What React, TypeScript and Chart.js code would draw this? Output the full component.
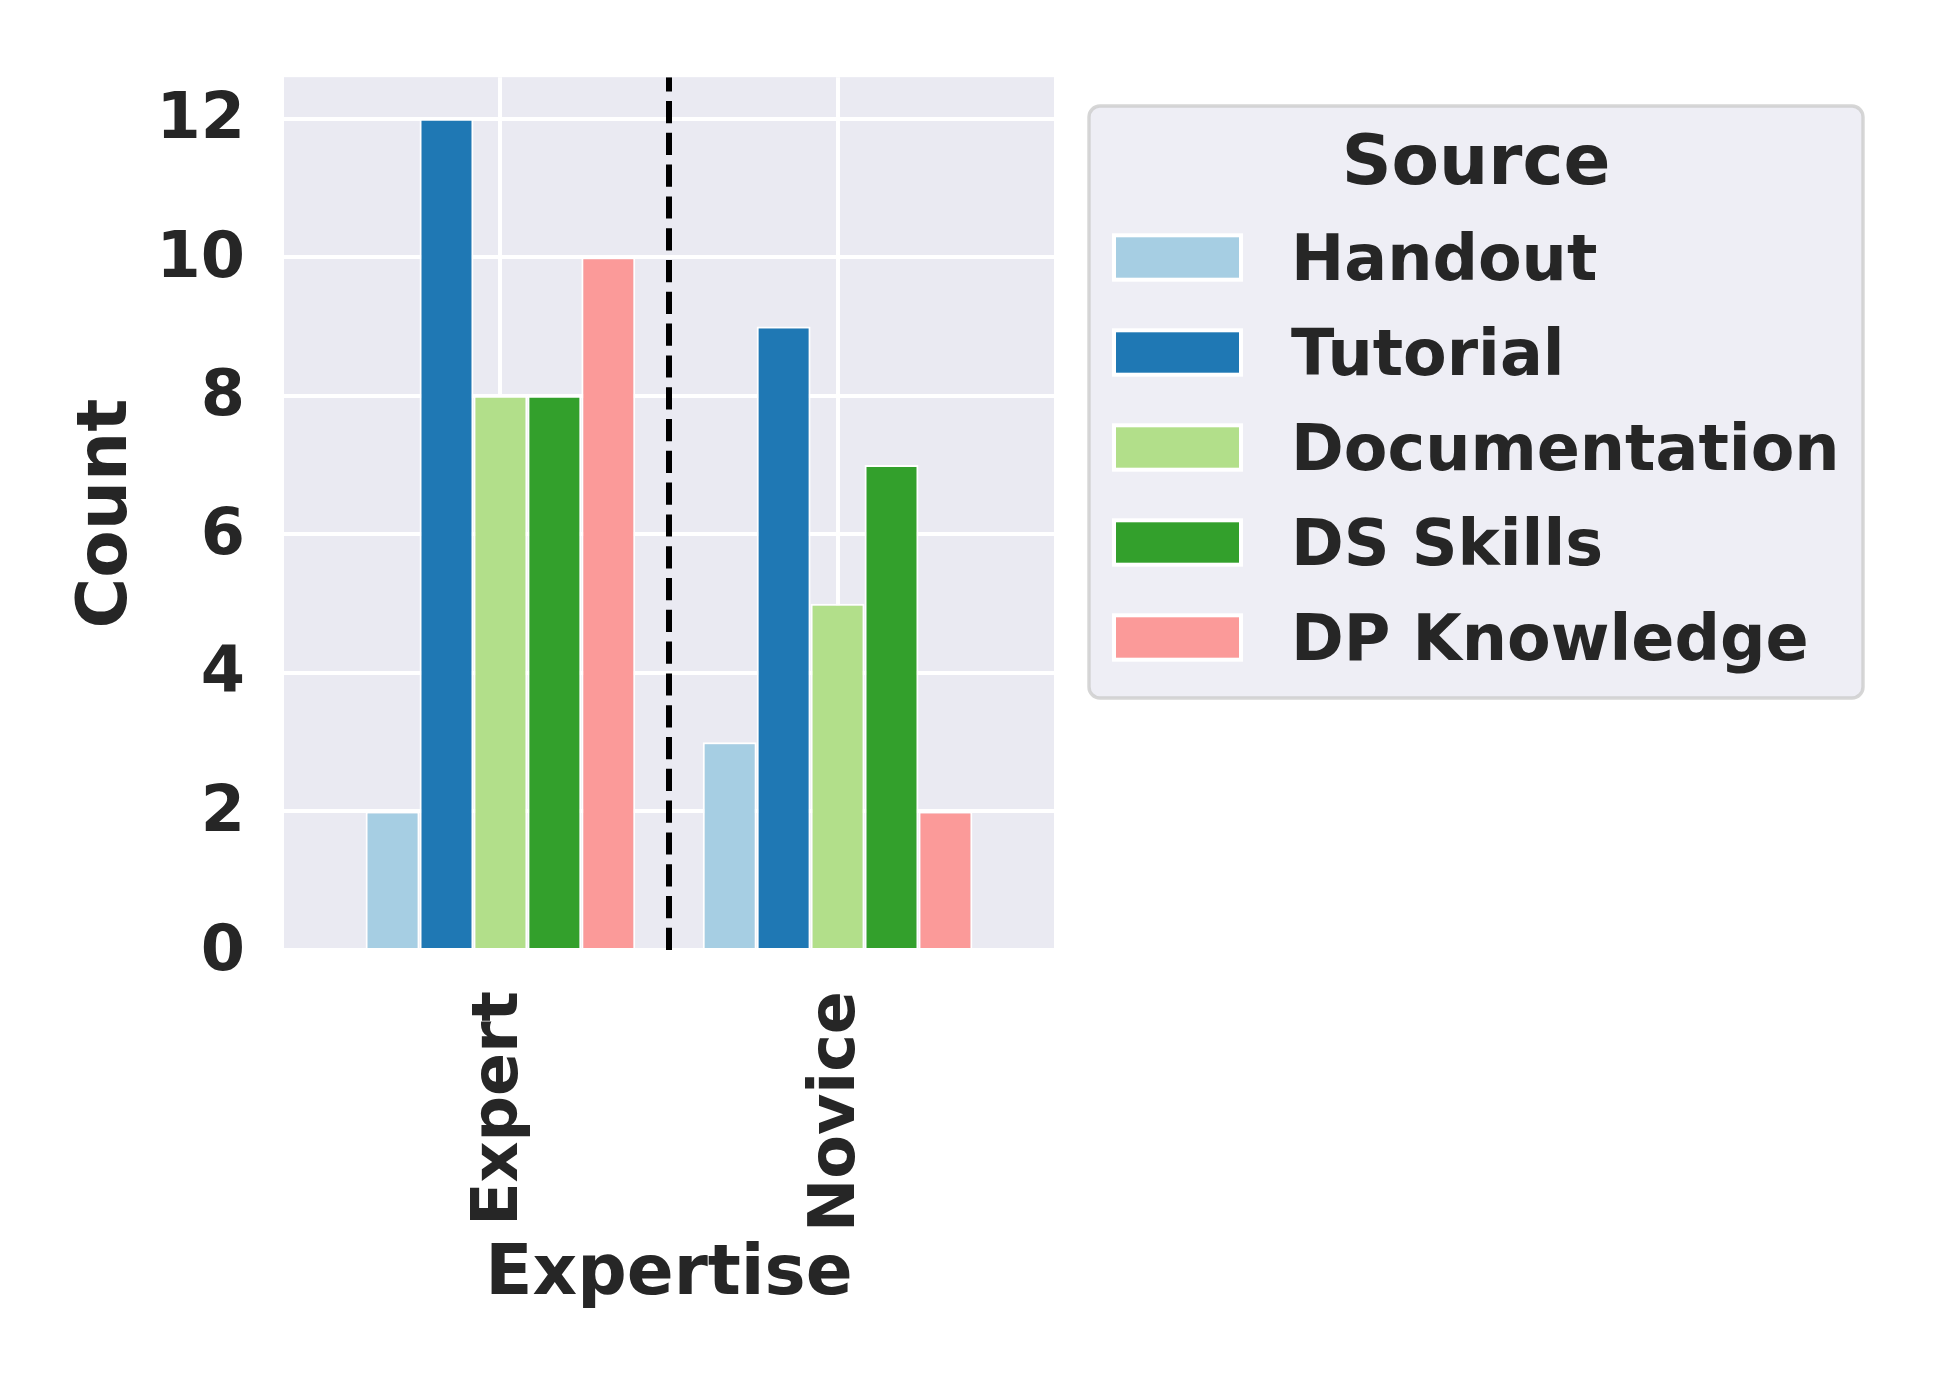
import React, { useEffect, useRef } from 'react';
import { Chart, registerables } from 'chart.js';

Chart.register(...registerables);

const categories = ['Expert', 'Novice'];
const sources = ['Handout', 'Tutorial', 'Documentation', 'DS Skills', 'DP Knowledge'];
const handout = [2, 3];
const tutorial = [12, 9];
const documentation = [8, 5];
const dsSkills = [8, 7];
const dpKnowledge = [10, 2];
const seriesValues = [handout, tutorial, documentation, dsSkills, dpKnowledge];
const palette = ['#a6cee3', '#1f78b4', '#b2df8a', '#33a02c', '#fb9a99'];
const yTickStep = 2;
const yMax = 12.6;
const legendTitle = 'Source';
const xTitle = 'Expertise';
const yTitle = 'Count';

const TEXT = '#262626';
const FONT = "'DejaVu Sans', sans-serif";
const TICK_SIZE = 63.6;
const TITLE_SIZE = 69.2;

const bgPlugin = {
  id: 'bgPlugin',
  beforeDraw(chart: any) {
    const { ctx, chartArea: a } = chart;
    ctx.save();
    ctx.fillStyle = '#ffffff';
    ctx.fillRect(0, 0, chart.width, chart.height);
    ctx.fillStyle = '#eaeaf2';
    ctx.fillRect(a.left, a.top, a.right - a.left, a.bottom - a.top);
    ctx.restore();
  },
};

const dividerPlugin = {
  id: 'dividerPlugin',
  afterDatasetsDraw(chart: any) {
    const { ctx, chartArea: a, scales } = chart;
    const x = scales.x.getPixelForValue(0.5);
    ctx.save();
    ctx.beginPath();
    ctx.rect(a.left, a.top, a.right - a.left, a.bottom - a.top);
    ctx.clip();
    ctx.strokeStyle = '#000000';
    ctx.lineWidth = 6;
    ctx.setLineDash([22.2, 9.6]);
    ctx.beginPath();
    ctx.moveTo(x, a.bottom);
    ctx.lineTo(x, a.top);
    ctx.stroke();
    ctx.restore();
  },
};

const legendPlugin = {
  id: 'legendPlugin',
  afterDraw(chart: any) {
    const { ctx } = chart;
    const ds = chart.data.datasets;
    const bx = 1089, by = 106, bw = 774, bh = 592;
    ctx.save();
    ctx.beginPath();
    (ctx as any).roundRect(bx, by, bw, bh, 11);
    ctx.fillStyle = 'rgba(234,234,242,0.8)';
    ctx.fill();
    ctx.lineWidth = 3.4;
    ctx.strokeStyle = 'rgba(204,204,204,0.8)';
    ctx.stroke();

    ctx.fillStyle = TEXT;
    ctx.font = `bold ${TITLE_SIZE}px ${FONT}`;
    ctx.textAlign = 'center';
    ctx.textBaseline = 'alphabetic';
    ctx.fillText(legendTitle, bx + bw / 2, 184);

    ctx.font = `bold ${TICK_SIZE}px ${FONT}`;
    ctx.textAlign = 'left';
    ds.forEach((d: any, i: number) => {
      const py = 235.3 + i * 95;
      ctx.fillStyle = d.backgroundColor;
      ctx.fillRect(1114, py, 127, 44.4);
      ctx.strokeStyle = '#ffffff';
      ctx.lineWidth = 4;
      ctx.strokeRect(1114, py, 127, 44.4);
      ctx.fillStyle = TEXT;
      ctx.fillText(d.label, 1291, 280 + i * 95);
    });
    ctx.restore();
  },
};

export default function App() {
  const ref = useRef<HTMLCanvasElement | null>(null);

  useEffect(() => {
    if (!ref.current) return;
    Chart.defaults.font.family = FONT;
    const chart = new Chart(ref.current, {
      type: 'bar',
      data: {
        datasets: sources.map((s, k) => ({
          label: s,
          data: categories.map((_, i) => ({ x: i, y: seriesValues[k][i] })),
          backgroundColor: palette[k],
          borderColor: '#ffffff',
          borderWidth: 2,
          categoryPercentage: 0.8,
          barPercentage: 1.0,
        })),
      },
      options: {
        responsive: false,
        animation: false,
        devicePixelRatio: 1,
        layout: { padding: { left: 0, top: 75, right: 883, bottom: 0 } },
        plugins: { legend: { display: false }, tooltip: { enabled: false } },
        scales: {
          x: {
            type: 'linear',
            min: -0.642,
            max: 1.642,
            offset: false,
            grid: { color: '#ffffff', lineWidth: 4, drawTicks: false, offset: false },
            border: { display: false },
            afterBuildTicks: (s: any) => {
              s.ticks = categories.map((_, i) => ({ value: i }));
            },
            afterFit: (s: any) => {
              s.height = 434;
            },
            ticks: {
              callback: (v: any) => categories[v as number] ?? '',
              minRotation: 90,
              maxRotation: 90,
              autoSkip: false,
              padding: 41,
              color: TEXT,
              font: { size: TICK_SIZE, weight: 'bold', family: FONT },
            },
            title: {
              display: true,
              text: xTitle,
              color: TEXT,
              font: { size: TITLE_SIZE, weight: 'bold', family: FONT, lineHeight: 1 },
              padding: { top: 0, bottom: 73 },
            },
          } as any,
          y: {
            type: 'linear',
            min: 0,
            max: yMax,
            grid: { color: '#ffffff', lineWidth: 4, drawTicks: false },
            border: { display: false },
            afterFit: (s: any) => {
              s.width = 284;
            },
            ticks: {
              stepSize: yTickStep,
              includeBounds: false,
              padding: 39,
              labelOffset: 3,
              color: TEXT,
              font: { size: TICK_SIZE, weight: 'bold', family: FONT },
            },
            title: {
              display: true,
              text: yTitle,
              color: TEXT,
              font: { size: TITLE_SIZE, weight: 'bold', family: FONT, lineHeight: 1 },
              padding: { top: 73, bottom: 0 },
            },
          } as any,
        },
      },
      plugins: [bgPlugin, dividerPlugin, legendPlugin],
    });
    return () => chart.destroy();
  }, []);

  return (
    <div style={{ position: 'absolute', left: 0, top: 0, width: 1937, height: 1384 }}>
      <canvas ref={ref} width={1937} height={1384} style={{ display: 'block', width: 1937, height: 1384 }} />
    </div>
  );
}
